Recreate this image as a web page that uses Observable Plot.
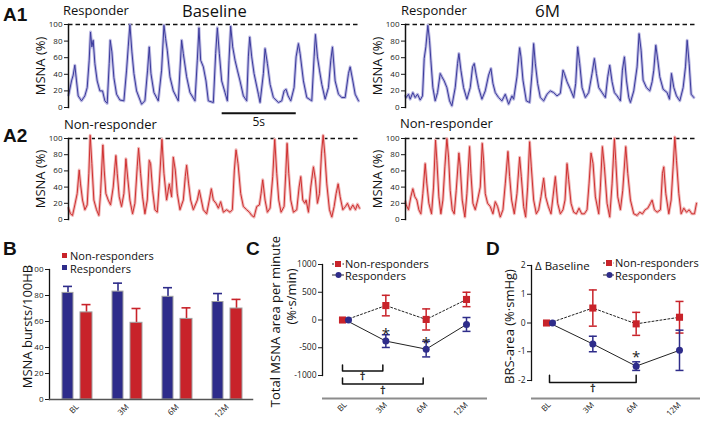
<!DOCTYPE html>
<html><head><meta charset="utf-8">
<script src="https://cdn.jsdelivr.net/npm/d3@7"></script>
<script src="https://cdn.jsdelivr.net/npm/@observablehq/plot@0.6"></script>
<style>
body{margin:0;background:#fff;}
#root{position:relative;width:705px;height:421px;overflow:hidden;background:#fff;}
</style></head><body><div id="root"></div>
<script>
// ---------- DATA ----------
const months = ["BL", "3M", "6M", "12M"];
const samplesPerSecond = 44.4;          // trace time base (samples per second)
const scaleBarStart = 465;              // sample where the 5 s scale bar starts
const scaleBarSeconds = 5;

// MSNA traces: [sample, MSNA %]
const responderBaseline = [[6,15],[8,18],[15,32],[20,39],[25,51],[30,32],[35,14],[45,8],[55,14],[62,24],[68,57],[72,91],[76,73],[80,81],[85,53],[92,32],[100,20],[108,20],[115,8],[122,5],[128,53],[131,81],[136,67],[142,36],[150,16],[160,9],[172,8],[180,45],[185,73],[190,100],[196,67],[202,41],[210,20],[225,4],[235,8],[243,45],[248,73],[253,41],[262,18],[275,8],[285,45],[292,99],[297,83],[302,69],[310,37],[320,20],[335,8],[340,45],[345,81],[350,65],[360,37],[370,18],[385,8],[392,57],[397,96],[402,57],[410,49],[418,32],[425,8],[440,6],[447,65],[452,96],[458,65],[465,32],[475,18],[482,8],[487,57],[492,98],[498,73],[505,57],[512,45],[520,32],[530,14],[540,8],[545,61],[549,85],[555,61],[562,41],[575,16],[580,6],[590,41],[595,71],[602,53],[610,28],[620,12],[635,6],[645,8],[652,20],[658,22],[664,14],[672,8],[682,24],[688,61],[695,77],[700,65],[710,32],[720,12],[735,8],[742,61],[746,88],[752,61],[758,45],[765,28],[775,10],[785,24],[792,57],[797,73],[805,32],[815,16],[825,12],[835,12],[845,41],[850,49],[858,32],[865,16],[875,8]];
const responder6M = [[6,14],[8,12],[15,16],[20,10],[28,18],[35,12],[42,16],[50,9],[57,14],[62,59],[67,73],[73,99],[78,81],[82,57],[88,24],[95,8],[102,18],[110,41],[115,37],[122,32],[130,24],[138,8],[145,2],[155,24],[162,53],[166,65],[172,45],[180,24],[190,10],[200,24],[207,49],[212,53],[218,39],[225,24],[235,10],[245,20],[255,39],[262,47],[268,29],[275,18],[285,12],[295,8],[305,16],[315,4],[325,14],[330,10],[340,37],[348,72],[352,61],[358,33],[368,8],[378,6],[385,41],[390,77],[395,53],[402,29],[410,12],[420,8],[430,16],[440,20],[450,18],[460,14],[470,17],[478,45],[482,41],[490,31],[500,22],[510,12],[516,29],[522,73],[528,53],[535,24],[545,12],[555,18],[565,41],[572,59],[578,41],[585,24],[595,18],[605,12],[612,37],[618,51],[625,31],[632,18],[640,14],[650,8],[656,45],[662,61],[668,33],[675,12],[680,6],[690,20],[700,49],[706,89],[712,69],[718,33],[728,24],[738,20],[745,31],[750,45],[756,75],[762,57],[768,37],[778,22],[790,18],[797,10],[803,41],[810,24],[818,14],[828,8],[838,24],[845,49],[850,81],[856,53],[862,16],[870,12]];
const nonResponderBaseline = [[6,14],[12,7],[18,5],[25,18],[32,32],[38,61],[42,44],[48,24],[55,12],[62,18],[67,57],[71,104],[76,69],[82,24],[90,12],[97,5],[102,32],[109,92],[113,61],[118,32],[125,24],[132,18],[140,40],[145,65],[148,79],[152,57],[158,28],[165,16],[172,32],[178,75],[184,49],[190,24],[198,7],[205,20],[212,65],[216,88],[222,57],[228,28],[235,7],[242,24],[248,73],[252,69],[258,36],[265,12],[272,9],[278,44],[286,99],[292,57],[300,24],[308,44],[315,28],[320,77],[326,61],[332,32],[340,12],[350,24],[356,53],[360,67],[366,44],[372,24],[380,12],[392,24],[398,36],[404,24],[410,12],[420,7],[428,24],[434,38],[440,24],[448,20],[455,14],[462,22],[470,9],[480,12],[490,9],[497,12],[503,61],[508,86],[514,69],[522,32],[530,16],[540,12],[548,9],[555,5],[562,3],[570,16],[578,18],[583,32],[588,49],[595,24],[602,9],[610,14],[618,53],[624,99],[630,57],[636,24],[643,9],[652,16],[657,57],[661,94],[666,57],[672,24],[680,9],[690,12],[697,40],[702,53],[708,24],[714,20],[718,24],[725,9],[732,40],[740,65],[746,49],[752,20],[758,32],[764,81],[769,104],[774,81],[780,44],[788,12],[795,3],[802,16],[808,32],[814,44],[820,28],[828,12],[836,16],[842,20],[850,12],[858,18],[866,12],[872,19],[878,14]];
const nonResponder6M = [[6,22],[8,18],[15,12],[22,28],[28,38],[34,28],[40,24],[46,12],[52,7],[58,32],[65,69],[70,44],[76,20],[84,7],[90,40],[96,98],[100,73],[106,28],[112,7],[118,24],[124,65],[130,100],[135,77],[140,36],[146,12],[152,7],[158,36],[166,82],[170,65],[176,24],[184,3],[190,32],[198,90],[202,57],[208,20],[215,12],[222,24],[230,40],[236,94],[240,73],[245,32],[252,20],[260,16],[268,7],[275,22],[282,16],[290,3],[298,12],[305,44],[313,84],[318,53],[324,24],[332,7],[340,32],[348,77],[353,53],[360,16],[366,3],[372,40],[378,96],[383,65],[390,24],[398,7],[405,12],[412,28],[420,51],[426,28],[434,16],[442,7],[448,28],[455,53],[462,20],[470,7],[478,12],[484,24],[490,69],[495,49],[502,20],[510,9],[518,7],[526,14],[534,7],[542,7],[550,12],[556,44],[562,82],[568,69],[575,28],[585,7],[590,40],[596,90],[602,65],[610,20],[618,3],[625,44],[632,100],[636,73],[642,28],[650,12],[657,36],[666,90],[672,57],[680,24],[690,7],[700,5],[708,9],[716,7],[724,12],[732,14],[740,20],[745,24],[752,12],[760,9],[770,12],[776,57],[780,65],[786,32],[795,7],[802,24],[808,65],[813,102],[818,73],[825,32],[832,7],[840,14],[848,9],[856,12],[864,7],[872,7],[878,20]];

// B: MSNA bursts/100HB (mean, SE)
const burstsResp = [82, 83, 79, 75];
const burstsRespSE = [5, 6.5, 7, 6.5];
const burstsNon = [67, 59, 62, 70];
const burstsNonSE = [6, 11, 8.5, 7];

// C: Total MSNA area per minute (%·s/min)
const areaNon = [0, 260, 10, 370];
const areaNonSE = [0, 185, 190, 130];
const areaResp = [0, -380, -525, -80];
const areaRespSE = [0, 115, 140, 125];
const areaStars = [{i: 1, y: -247}, {i: 2, y: -409}];
const areaBrackets = [{from: 0, to: 1, top: -811, bottom: -919, labelY: -1013}, {from: 0, to: 2, top: -1045, bottom: -1153, labelY: -1265}];

// D: BRS-area (%·smHg), Δ baseline
const brsNon = [0, 0.52, -0.03, 0.2];
const brsNonSE = [0, 0.63, 0.4, 0.55];
const brsResp = [0, -0.73, -1.5, -0.95];
const brsRespSE = [0, 0.27, 0.15, 0.7];
const brsStars = [{i: 2, y: -1.18}];
const brsBrackets = [{from: 0, to: 2, top: -1.82, bottom: -2.07, labelY: -2.28}];

// ---------- STYLE ----------
const W = 705, H = 421;
const BLUE = "#2e2c8a", RED = "#c8232a";
const TRACE_BLUE = "#3b3a9c", HALO_BLUE = "#bdbbe3";
const TRACE_RED = "#cf3030", HALO_RED = "#f0b9b9";
const FONT = "'Open Sans', sans-serif";
const baseStyle = {background: "transparent", position: "absolute", left: "0px", top: "0px", fontFamily: FONT, fontSize: "8px", color: "#1a1a1a", overflow: "visible"};
const root = document.getElementById("root");
function add(p) { root.appendChild(p); }
function yLabel(s, dx, dy) {
  return Plot.text([s], {frameAnchor: "left", rotate: -90, textAnchor: "middle", dx, dy, fontSize: 13, fill: "#111"});
}

// ---------- A: traces ----------
function tracePanel(data, {left, right, top, bottom, stroke, halo, extra = []}) {
  return Plot.plot({
    width: W, height: H,
    marginLeft: left, marginRight: W - right, marginTop: top, marginBottom: H - bottom,
    x: {domain: [6, 878], axis: null},
    y: {domain: [0, 100], axis: null},
    style: baseStyle,
    marks: [
      Plot.ruleY([100], {stroke: "#111", strokeWidth: 1.4, strokeDasharray: "4.5,3"}),
      Plot.line(data, {x: d => d[0], y: d => d[1], stroke: halo, strokeWidth: 3}),
      Plot.line(data, {x: d => d[0], y: d => d[1], stroke, strokeWidth: 1}),
      Plot.axisY({ticks: [0, 20, 40, 60, 80, 100], tickSize: 4, tickPadding: 2, fontSize: 8, label: null}),
      Plot.frame({anchor: "left", stroke: "#111", strokeWidth: 1.5}),
      yLabel("MSNA (%)", -28, 0),
      ...extra
    ]
  });
}
const scaleBar = [
  Plot.link([scaleBarStart], {x1: d => d, x2: d => d + scaleBarSeconds * samplesPerSecond, y1: -7, y2: -7, stroke: "#111", strokeWidth: 2}),
  Plot.text([scaleBarStart], {x: d => d + scaleBarSeconds * samplesPerSecond / 2, y: -18, text: () => scaleBarSeconds + "s", fontSize: 12, fill: "#111"})
];
add(tracePanel(responderBaseline, {left: 68, right: 359, top: 24, bottom: 107, stroke: TRACE_BLUE, halo: HALO_BLUE, extra: scaleBar}));
add(tracePanel(responder6M, {left: 405, right: 696, top: 24, bottom: 107, stroke: TRACE_BLUE, halo: HALO_BLUE}));
add(tracePanel(nonResponderBaseline, {left: 68, right: 359, top: 138, bottom: 219, stroke: TRACE_RED, halo: HALO_RED}));
add(tracePanel(nonResponder6M, {left: 405, right: 696, top: 138, bottom: 219, stroke: TRACE_RED, halo: HALO_RED}));

// ---------- B: bars ----------
const burstsR = months.map((m, i) => ({month: m, value: burstsResp[i], se: burstsRespSE[i]}));
const burstsN = months.map((m, i) => ({month: m, value: burstsNon[i], se: burstsNonSE[i]}));
add(Plot.plot({
  width: W, height: H,
  marginLeft: 49, marginRight: W - 252, marginTop: 269, marginBottom: H - 399,
  x: {type: "band", domain: months, range: [52, 252], padding: 0},
  y: {domain: [0, 100]},
  style: baseStyle,
  marks: [
    Plot.ruleX(burstsR, {x: "month", y1: "value", y2: d => d.value + d.se, stroke: BLUE, strokeWidth: 1.6, dx: -9.5}),
    Plot.tickY(burstsR, {x: "month", y: d => d.value + d.se, stroke: BLUE, strokeWidth: 1.6, insetLeft: 11, insetRight: 30}),
    Plot.ruleX(burstsN, {x: "month", y1: "value", y2: d => d.value + d.se, stroke: RED, strokeWidth: 1.6, dx: 9}),
    Plot.tickY(burstsN, {x: "month", y: d => d.value + d.se, stroke: RED, strokeWidth: 1.6, insetLeft: 29.5, insetRight: 11.5}),
    Plot.barY(burstsR, {x: "month", y: "value", fill: BLUE, stroke: "#a0a0a0", strokeWidth: 1, insetLeft: 10, insetRight: 29}),
    Plot.barY(burstsN, {x: "month", y: "value", fill: RED, stroke: "#a0a0a0", strokeWidth: 1, insetLeft: 28, insetRight: 10}),
    Plot.axisY({ticks: [0, 20, 40, 60, 80, 100], tickSize: 4, tickPadding: 2, fontSize: 8, label: null}),
    Plot.axisX({tickRotate: -45, tickSize: 0, tickPadding: 6, fontSize: 8, label: null}),
    Plot.frame({anchor: "left", stroke: "#111", strokeWidth: 1.3}),
    Plot.frame({anchor: "bottom", stroke: "#555", strokeWidth: 1.5}),
    yLabel("MSNA bursts/100HB", -22, -8)
  ]
}));

// ---------- C & D: line panels ----------
const capSymbol = {draw(ctx) { ctx.moveTo(-4, 0); ctx.lineTo(4, 0); }};
function seriesTable(vals, se) { return months.map((m, i) => ({i, month: m, value: vals[i], se: se[i]})); }
function linePanel({non, resp, left, right, top, bottom, xRange, yDomain, yTicks, axisDy, stars, brackets, bracketDx, labels}) {
  const withErr = t => t.filter(d => d.se > 0);
  const errMarks = (t, color) => [
    Plot.ruleX(withErr(t), {x: "i", y1: d => d.value - d.se, y2: d => d.value + d.se, stroke: color, strokeWidth: 1.5}),
    Plot.dot(withErr(t), {x: "i", y: d => d.value + d.se, symbol: capSymbol, stroke: color, fill: "none", strokeWidth: 1.5, r: 4}),
    Plot.dot(withErr(t), {x: "i", y: d => d.value - d.se, symbol: capSymbol, stroke: color, fill: "none", strokeWidth: 1.5, r: 4})
  ];
  const bracketPts = brackets.flatMap((b, k) => [
    {k, i: b.from, y: b.top}, {k, i: b.from, y: b.bottom}, {k, i: b.to, y: b.bottom}, {k, i: b.to, y: b.top}]);
  return Plot.plot({
    width: W, height: H,
    marginLeft: left, marginRight: W - right, marginTop: top, marginBottom: H - bottom,
    x: {type: "linear", domain: [0, 3], range: xRange},
    y: {domain: yDomain},
    style: baseStyle,
    marks: [
      Plot.axisY({ticks: yTicks, tickFormat: d => String(d), tickSize: 4, tickPadding: 2, fontSize: 8.5, label: null}),
      Plot.frame({anchor: "left", stroke: "#111", strokeWidth: 1.3}),
      Plot.ruleY([yDomain[0]], {dy: axisDy, stroke: "#8c8c8c", strokeWidth: 2}),
      Plot.axisX({ticks: [0, 1, 2, 3], tickFormat: i => months[i], tickRotate: -45, tickSize: 0, tickPadding: 5, dy: axisDy, fontSize: 8, label: null}),
      Plot.line(non, {x: "i", y: "value", stroke: "#222", strokeWidth: 1, strokeDasharray: "2,2"}),
      Plot.line(resp, {x: "i", y: "value", stroke: "#222", strokeWidth: 1}),
      ...errMarks(non, RED),
      ...errMarks(resp, BLUE),
      Plot.dot(non.filter(d => d.i === 0), {x: "i", y: "value", symbol: "square", r: 4, fill: RED, dx: -3}),
      Plot.dot(non.filter(d => d.i > 0), {x: "i", y: "value", symbol: "square", r: 4, fill: RED}),
      Plot.dot(resp.filter(d => d.i === 0), {x: "i", y: "value", r: 3.5, fill: BLUE, dx: 3}),
      Plot.dot(resp.filter(d => d.i > 0), {x: "i", y: "value", r: 3.5, fill: BLUE}),
      Plot.text(stars, {x: "i", y: "y", text: () => "*", fontSize: 15, fill: "#222"}),
      Plot.line(bracketPts, {x: "i", y: "y", z: "k", stroke: "#111", strokeWidth: 1.5, dx: bracketDx}),
      Plot.text(brackets, {x: b => (b.from + b.to) / 2, y: "labelY", text: () => "\u2020", fontSize: 11, fill: "#111", stroke: "#111", strokeWidth: 0.3, dx: bracketDx}),
      ...labels
    ]
  });
}
add(linePanel({
  non: seriesTable(areaNon, areaNonSE), resp: seriesTable(areaResp, areaRespSE),
  left: 322, right: 487, top: 264, bottom: 375, xRange: [345, 466],
  yDomain: [-1000, 1000], yTicks: [-1000, -500, 0, 500, 1000], axisDy: 23,
  stars: areaStars, brackets: areaBrackets, bracketDx: -3,
  labels: [yLabel("Total MSNA area per minute", -47, 1.5), yLabel("(%·s/min)", -31, -23.5)]
}));
add(linePanel({
  non: seriesTable(brsNon, brsNonSE), resp: seriesTable(brsResp, brsRespSE),
  left: 531, right: 700, top: 265, bottom: 380, xRange: [549, 679],
  yDomain: [-2, 2], yTicks: [-2, -1, 0, 1, 2], axisDy: 18,
  stars: brsStars, brackets: brsBrackets, bracketDx: 0,
  labels: [yLabel("BRS-area (%·smHg)", -22, 3.5)]
}));

// ---------- titles & legends ----------
const ov = d3.select(root).append("svg").attr("width", W).attr("height", H)
  .style("position", "absolute").style("left", "0px").style("top", "0px").style("overflow", "visible");
function txt(x, y, s, size, extra = {}) {
  const t = ov.append("text").attr("x", x).attr("y", y).text(s)
    .attr("font-family", extra.family || FONT).attr("font-size", size).attr("fill", "#111");
  if (extra.bold) t.attr("font-weight", "bold");
  return t;
}
const LETTER = "'Liberation Sans', Arial, sans-serif";
txt(3, 21, "A1", 19, {family: LETTER, bold: true});
txt(3, 142, "A2", 19, {family: LETTER, bold: true});
txt(3, 255, "B", 19, {family: LETTER, bold: true});
txt(246, 255, "C", 19, {family: LETTER, bold: true});
txt(486, 255, "D", 19, {family: LETTER, bold: true});
txt(63, 15, "Responder", 13);
txt(182, 16.5, "Baseline", 16.5);
txt(401, 15, "Responder", 13);
txt(535, 17, "6M", 17);
txt(64, 129, "Non-responder", 13);
txt(400, 128, "Non-responder", 13);
txt(535, 270, "Δ Baseline", 11.5);

// B legend
ov.append("rect").attr("x", 62).attr("y", 253).attr("width", 5).attr("height", 5).attr("fill", RED);
txt(70, 259.5, "Non-responders", 11);
ov.append("rect").attr("x", 62).attr("y", 265).attr("width", 5).attr("height", 5).attr("fill", BLUE);
txt(70, 272.5, "Responders", 11);

// C and D legends
function lineLegend(x0, x1, cx, yN, yR, tx) {
  ov.append("line").attr("x1", x0).attr("x2", x1).attr("y1", yN).attr("y2", yN).attr("stroke", "#222").attr("stroke-dasharray", "2,1.5");
  ov.append("rect").attr("x", cx - 3).attr("y", yN - 3).attr("width", 6).attr("height", 6).attr("fill", RED);
  txt(tx, yN + 4, "Non-responders", 11);
  ov.append("line").attr("x1", x0).attr("x2", x1).attr("y1", yR).attr("y2", yR).attr("stroke", "#222");
  ov.append("circle").attr("cx", cx + 0.5).attr("cy", yR).attr("r", 3).attr("fill", BLUE);
  txt(tx, yR + 5, "Responders", 11);
}
lineLegend(332, 344, 338, 264, 275, 345);
lineLegend(603, 614, 609, 263, 275, 615);
</script></body></html>
